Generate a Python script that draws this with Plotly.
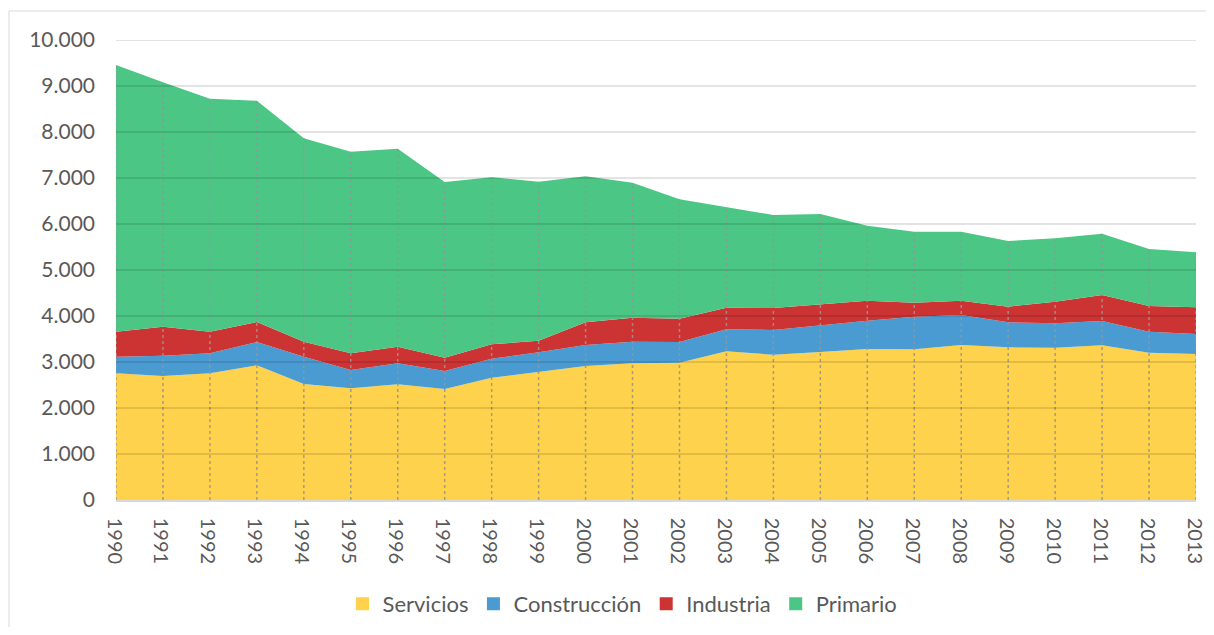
import plotly.graph_objects as go

years = list(range(1990, 2014))
servicios = [2754, 2696, 2754, 2928, 2522, 2428, 2514, 2413, 2659, 2783, 2913, 2971,
             2986, 3232, 3159, 3220, 3283, 3275, 3370, 3319, 3312, 3362, 3203, 3174]
construccion = [362, 442, 434, 507, 594, 398, 457, 391, 413, 427, 457, 471,
                449, 478, 537, 584, 616, 711, 652, 543, 529, 529, 456, 435]
industria = [543, 630, 471, 435, 326, 362, 362, 290, 312, 254, 492, 522,
             507, 471, 478, 457, 434, 304, 311, 341, 471, 566, 558, 579]
primario = [5798, 5312, 5066, 4811, 4420, 4384, 4305, 3819, 3631, 3456, 3174, 2935,
            2594, 2189, 2022, 1956, 1631, 1543, 1500, 1427, 1376, 1333, 1240, 1196]
y_ticks = [0, 1000, 2000, 3000, 4000, 5000, 6000, 7000, 8000, 9000, 10000]
y_tick_labels = ["0", "1.000", "2.000", "3.000", "4.000", "5.000", "6.000",
                 "7.000", "8.000", "9.000", "10.000"]
x_tick_labels = [str(y) for y in years]

series = [
    ("Servicios", servicios, "#FED24C"),
    ("Construcción", construccion, "#4A9BD2"),
    ("Industria", industria, "#CC3333"),
    ("Primario", primario, "#4CC684"),
]

FONT = "Lato, 'Open Sans', sans-serif"
TXT = "#595959"

fig = go.Figure()
for name, vals, col in series:
    fig.add_trace(go.Scatter(
        x=years, y=vals, name=name, stackgroup="one", mode="lines",
        line=dict(width=0, color=col), fillcolor=col, showlegend=False,
        hoverinfo="x+y+name",
    ))

# drop lines from 0 to stacked total
totals = [s + c + i + p for s, c, i, p in zip(servicios, construccion, industria, primario)]
dx, dy = [], []
for yr, t in zip(years, totals):
    dx += [yr, yr, None]
    dy += [0, t, None]
fig.add_trace(go.Scatter(x=dx, y=dy, mode="lines", showlegend=False, hoverinfo="skip",
                         line=dict(color="rgba(150,150,150,0.9)", width=1.5, dash="dot")))

# legend entries
for name, vals, col in series:
    fig.add_trace(go.Scatter(x=[None], y=[None], mode="markers", name=name,
                             marker=dict(symbol="square", size=13, color=col)))

# gridlines drawn above the areas
for v in y_ticks[1:]:
    fig.add_shape(type="line", xref="paper", x0=0, x1=1, yref="y", y0=v, y1=v,
                  line=dict(color="rgba(0,0,0,0.15)", width=1.3), layer="above")

# chart border
fig.add_shape(type="rect", xref="paper", yref="paper", x0=-0.0991, x1=1.05, y0=-0.35, y1=1.063,
              line=dict(color="#D9D9D9", width=1), fillcolor="rgba(0,0,0,0)", layer="below")

fig.update_layout(
    width=1198, height=619,
    margin=dict(l=108, r=10, t=32, b=127),
    paper_bgcolor="white", plot_bgcolor="white",
    font=dict(family=FONT, size=21, color=TXT),
    xaxis=dict(range=[1990, 2013], tickmode="array", tickvals=years, ticktext=x_tick_labels,
               tickangle=90, showgrid=False, zeroline=False, showline=True,
               linecolor="#D9D9D9", linewidth=1.5, ticks="", ticklabelstandoff=12,
               ticklabeloverflow="allow", automargin=False, ticklabelshift=-2,
               tickfont=dict(size=20, color=TXT, family=FONT)),
    yaxis=dict(range=[0, 10000], tickmode="array", tickvals=y_ticks, ticktext=y_tick_labels,
               showgrid=False, zeroline=False, showline=False, ticks="", ticklabelstandoff=20,
               automargin=False,
               tickfont=dict(size=21, color=TXT, family=FONT)),
    legend=dict(orientation="h", x=0.469, xanchor="center",
                yref="container", y=0.0372, yanchor="middle",
                font=dict(size=22, color=TXT, family=FONT), itemwidth=30,
                traceorder="normal", bgcolor="rgba(0,0,0,0)"),
    showlegend=True,
)

fig.write_html("out.html")
